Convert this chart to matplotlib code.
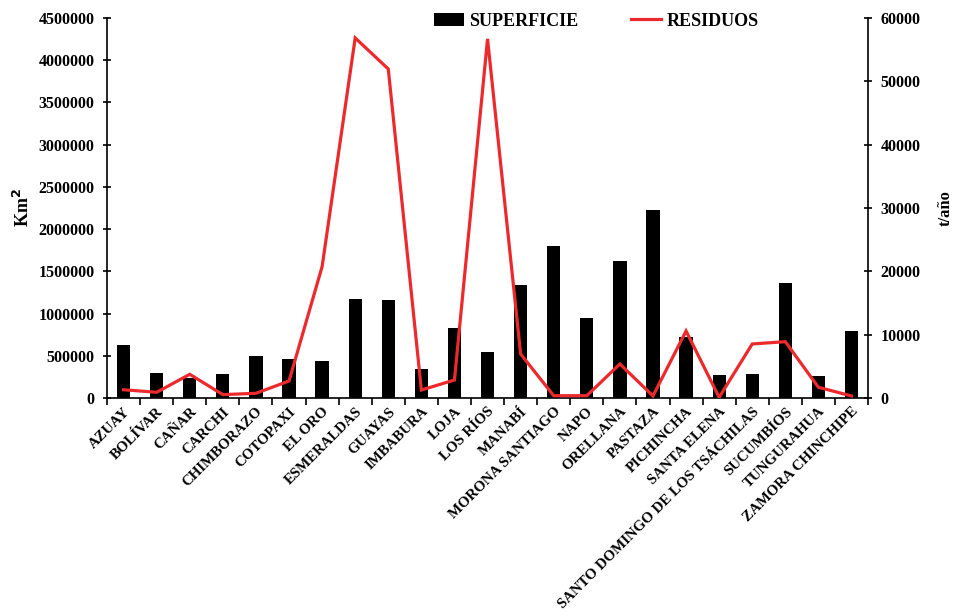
import matplotlib
matplotlib.use("Agg")
import matplotlib.pyplot as plt
from matplotlib.ticker import FuncFormatter
import numpy as np

provincias = ["AZUAY", "BOLÍVAR", "CAÑAR", "CARCHI", "CHIMBORAZO", "COTOPAXI",
              "EL ORO", "ESMERALDAS", "GUAYAS", "IMBABURA", "LOJA", "LOS RÍOS",
              "MANABÍ", "MORONA SANTIAGO", "NAPO", "ORELLANA", "PASTAZA",
              "PICHINCHA", "SANTA ELENA", "SANTO DOMINGO DE LOS TSÁCHILAS",
              "SUCUMBÍOS", "TUNGURAHUA", "ZAMORA CHINCHIPE"]

superficie = [625000, 292000, 240000, 284000, 494000, 458000, 438000, 1176000,
              1157000, 343000, 825000, 541000, 1338000, 1800000, 947000, 1622000,
              2226000, 719000, 276000, 284000, 1365000, 257000, 797000]

residuos = [1300, 900, 3740, 530, 740, 2680, 20740, 56850, 51950, 1260, 2840,
            56700, 6950, 360, 360, 5370, 320, 10580, 100, 8530, 8890, 1690, 320]

plt.rcParams["font.family"] = ["Liberation Serif", "DejaVu Serif"]
plt.rcParams["font.weight"] = "bold"

fig = plt.figure(figsize=(9.54, 6.12), dpi=100)
ax = fig.add_axes([0.1122, 0.3497, 0.7977, 0.6209])
ax2 = ax.twinx()

x = np.arange(len(provincias))
bars = ax.bar(x, superficie, width=0.4, color="black", label="SUPERFICIE", zorder=2)
line, = ax2.plot(x, residuos, color="#EC2A2D", lw=2.3, label="RESIDUOS",
                 solid_joinstyle="miter", zorder=3)

plain = FuncFormatter(lambda v, p: f"{v:.0f}")
ax.set_xlim(-0.5, len(provincias) - 0.5)
ax.set_ylim(0, 4500000)
ax.set_yticks(np.arange(0, 4500001, 500000))
ax.yaxis.set_major_formatter(plain)
ax2.set_ylim(0, 60000)
ax2.set_yticks(np.arange(0, 60001, 10000))
ax2.yaxis.set_major_formatter(plain)

ax.set_xticks(x)
ax.set_xticklabels(provincias, rotation=45, ha="right", rotation_mode="anchor",
                   fontsize=10.7, fontweight="bold")
ax.set_xticks(np.arange(-0.5, len(provincias) + 0.5, 1), minor=True)
ax.tick_params(axis="x", which="major", length=0, pad=5)
ax.tick_params(axis="x", which="minor", length=5, width=1.2, direction="out")
ax.tick_params(axis="y", direction="inout", length=6, width=1.2, labelsize=11.5, pad=6)
ax2.tick_params(axis="y", direction="inout", length=6, width=1.2, labelsize=11.5, pad=6)

for a in (ax, ax2):
    a.spines["top"].set_visible(False)
    for s in ("left", "right", "bottom"):
        a.spines[s].set_linewidth(1.2)
    for lbl in a.get_yticklabels():
        lbl.set_fontweight("bold")
ax.spines["right"].set_visible(False)
ax2.spines["left"].set_visible(False)
ax2.spines["bottom"].set_visible(False)

ax.set_ylabel("Km$^{\\mathbf{2}}$", fontsize=13, fontweight="bold", labelpad=4)
ax2.set_ylabel("t/año", fontsize=12, fontweight="bold", labelpad=12)

fig.legend([bars, line], ["SUPERFICIE", "RESIDUOS"], loc="upper center",
           bbox_to_anchor=(0.625, 1.006), ncol=2, frameon=False,
           prop={"weight": "bold", "size": 13}, handlelength=1.65,
           handletextpad=0.3, columnspacing=2.9)

fig.savefig("out.png", dpi=100)
